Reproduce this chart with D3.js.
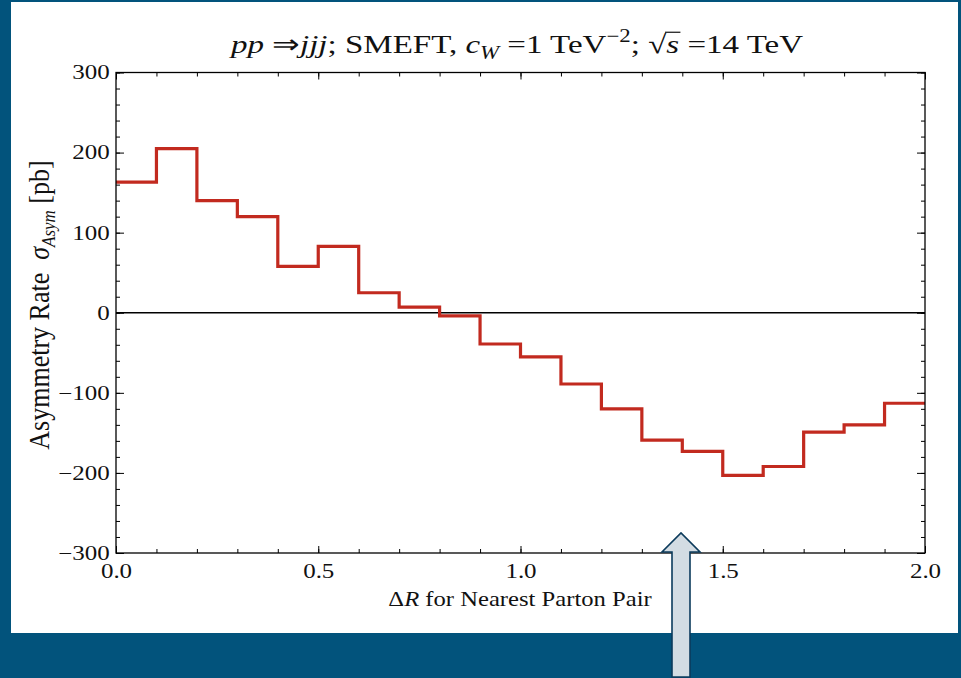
<!DOCTYPE html>
<html><head><meta charset="utf-8">
<script src="https://cdn.jsdelivr.net/npm/d3@7"></script>
<style>
html,body{margin:0;padding:0;background:#02537C;}
svg{display:block;}
text{font-family:"Liberation Serif","Times New Roman",serif;fill:#111;}
</style></head>
<body><svg id="c" width="961" height="678"></svg>
<script>
// ---- data ----
const binEdges = [0,0.1,0.2,0.3,0.4,0.5,0.6,0.7,0.8,0.9,1.0,1.1,1.2,1.3,1.4,1.5,1.6,1.7,1.8,1.9,2.0];
const asymValues = [163,205,140,120,58,83,25,7,-4,-39,-55,-89,-120,-159,-173,-203,-192,-149,-140,-113];
const xTicks = [0.0,0.5,1.0,1.5,2.0];
const yTicks = [-300,-200,-100,0,100,200,300];

const svg = d3.select("#c");
// white panel
svg.append("rect").attr("x",11).attr("y",2).attr("width",947).attr("height",631).attr("fill","#fff");

const L=116,R=925,T=72.5,B=553;
const x = d3.scaleLinear().domain([0,2]).range([L,R]);
const y = d3.scaleLinear().domain([-300,300]).range([B,T]);
const SX = 1.25;

const g = svg.append("g");
// zero line
g.append("line").attr("x1",L).attr("x2",R).attr("y1",y(0)).attr("y2",y(0)).attr("stroke","#000").attr("stroke-width",1.4);

function styleAxis(sel){sel.select(".domain").remove();sel.selectAll("line").attr("stroke","#000").attr("stroke-width",1);}
const xMinor = d3.range(0,2.0001,0.1);
const yMinor = d3.range(-300,300.001,20);
// bottom
g.append("g").attr("transform",`translate(0,${B})`).call(d3.axisBottom(x).tickValues(xMinor).tickSize(-4).tickFormat("")).call(styleAxis);
g.append("g").attr("transform",`translate(0,${B})`).call(d3.axisBottom(x).tickValues(xTicks).tickSize(-7).tickPadding(18).tickFormat(d3.format(".1f"))).call(styleAxis)
  .selectAll("text").attr("font-size",20).attr("font-family","Liberation Serif").attr("fill","#111").attr("dy","0.35em").attr("transform",`scale(${SX},1)`);
// top
g.append("g").attr("transform",`translate(0,${T})`).call(d3.axisTop(x).tickValues(xMinor).tickSize(-4).tickFormat("")).call(styleAxis);
g.append("g").attr("transform",`translate(0,${T})`).call(d3.axisTop(x).tickValues(xTicks).tickSize(-7).tickFormat("")).call(styleAxis);
// left
g.append("g").attr("transform",`translate(${L},0)`).call(d3.axisLeft(y).tickValues(yMinor).tickSize(-4).tickFormat("")).call(styleAxis);
g.append("g").attr("transform",`translate(${L},0)`).call(d3.axisLeft(y).tickValues(yTicks).tickSize(-8).tickPadding(5).tickFormat(d=>d<0?"\u2212"+Math.abs(d):d)).call(styleAxis)
  .selectAll("text").attr("font-size",20).attr("font-family","Liberation Serif").attr("fill","#111").attr("transform",`scale(${SX},1)`);
// right
g.append("g").attr("transform",`translate(${R},0)`).call(d3.axisRight(y).tickValues(yMinor).tickSize(-4).tickFormat("")).call(styleAxis);
g.append("g").attr("transform",`translate(${R},0)`).call(d3.axisRight(y).tickValues(yTicks).tickSize(-8).tickFormat("")).call(styleAxis);

// step line
const pts = asymValues.map((v,i)=>[binEdges[i],v]);
pts.push([binEdges[binEdges.length-1],asymValues[asymValues.length-1]]);
const line = d3.line().x(d=>x(d[0])).y(d=>y(d[1])).curve(d3.curveStepAfter);
g.append("path").attr("d",line(pts)).attr("fill","none").attr("stroke","#C22A1F").attr("stroke-width",3.2).attr("stroke-linejoin","miter");

// frame
g.append("rect").attr("x",L).attr("y",T).attr("width",R-L).attr("height",B-T).attr("fill","none").attr("stroke","#000").attr("stroke-width",1.3);

// title
const tg = svg.append("g").attr("transform","translate(517,53) scale(1.27,1)");
const t = tg.append("text").attr("text-anchor","middle").attr("font-size",26);
t.append("tspan").attr("font-style","italic").text("pp");
t.append("tspan").text(" \u21D2");
t.append("tspan").attr("font-style","italic").text("jjj");
t.append("tspan").text("; SMEFT, ");
t.append("tspan").attr("font-style","italic").text("c");
t.append("tspan").attr("font-style","italic").attr("font-size",18).attr("dy",6).text("W");
t.append("tspan").attr("dy",-6).text(" =1 TeV");
t.append("tspan").attr("font-size",18).attr("dy",-11).text("\u22122");
t.append("tspan").attr("dy",11).text("; \u221A");
t.append("tspan").attr("font-style","italic").text("s");
t.append("tspan").text(" =14 TeV");
// vinculum over s
try{
  const full = t.text();
  const iS = full.indexOf("\u221As")+1;
  const eR = t.node().getExtentOfChar(iS-1);
  const eS = t.node().getExtentOfChar(iS);
  tg.append("line").attr("x1",eR.x+eR.width-1).attr("x2",eS.x+eS.width+1)
    .attr("y1",eR.y+2).attr("y2",eR.y+2).attr("stroke","#111").attr("stroke-width",1.2);
}catch(e){}

// y label
const yl = svg.append("text").attr("transform","translate(49,305) rotate(-90) scale(1,1.1)").attr("text-anchor","middle").attr("font-size",26);
yl.append("tspan").text("Asymmetry Rate\u2002");
yl.append("tspan").attr("font-style","italic").text("\u03C3");
yl.append("tspan").attr("font-style","italic").attr("font-size",17).attr("dy",5).text("Asym");
yl.append("tspan").attr("dy",-5).text(" [pb]");

// x label
const xl = svg.append("g").attr("transform","translate(520,606) scale(1.12,1)")
  .append("text").attr("text-anchor","middle").attr("font-size",22);
xl.append("tspan").text("\u0394");
xl.append("tspan").attr("font-style","italic").text("R");
xl.append("tspan").text(" for Nearest Parton Pair");

// arrow
const ax=681;
const arrowPts=[[ax-9,677],[ax-9,552],[ax-19,552],[ax,533],[ax+19,552],[ax+9,552],[ax+9,677]];
svg.append("polygon").attr("points",arrowPts.map(p=>p.join(",")).join(" ")).attr("fill","#D3DCE3").attr("stroke","#0C3B5C").attr("stroke-width",1.6);
</script></body></html>
